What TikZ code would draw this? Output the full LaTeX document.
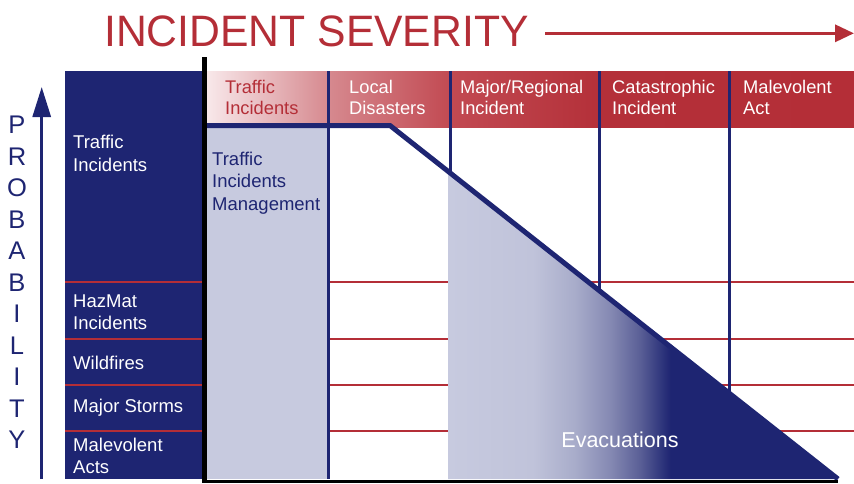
\documentclass[tikz,border=0pt]{standalone}
\usepackage{fontspec}
\setmainfont{Liberation Sans}
\usetikzlibrary{arrows.meta}
\definecolor{navy}{RGB}{30,37,114}
\definecolor{lav}{RGB}{199,202,223}
\definecolor{sevred}{RGB}{180,46,55}
\definecolor{hdra}{RGB}{248,232,234}
\definecolor{hdrb}{RGB}{214,137,143}
\definecolor{hdrc}{RGB}{194,74,82}
\definecolor{hdrd}{RGB}{180,48,57}
\definecolor{eva}{RGB}{192,195,218}
\definecolor{evb}{RGB}{168,172,202}
\definecolor{evc}{RGB}{133,137,179}
\definecolor{evd}{RGB}{90,95,150}
\pgfdeclarehorizontalshading{hdrshade}{100bp}{color(0bp)=(hdra); color(25bp)=(hdra);
  color(34.4bp)=(hdrb); color(43.8bp)=(hdrc); color(55.4bp)=(hdrd); color(75bp)=(sevred); color(100bp)=(sevred)}
\pgfdeclarehorizontalshading{evacshade}{100bp}{color(0bp)=(lav); color(25bp)=(lav);
  color(35.9bp)=(eva); color(41.3bp)=(evb); color(45.8bp)=(evc); color(49.6bp)=(evd);
  color(53.5bp)=(navy); color(100bp)=(navy)}
\begin{document}
\begin{tikzpicture}[x=1pt, y=-1pt,
  hdr/.style={anchor=west, align=left, inner sep=0pt, text=white, font=\fontsize{18.3}{21.6}\selectfont},
  lab/.style={anchor=west, align=left, inner sep=0pt, text=white, font=\fontsize{18.5}{22.5}\selectfont},
  letter/.style={inner sep=0pt, text=navy, font=\fontsize{25.5}{30}\selectfont},
  grid/.style={sevred, line width=2pt},
  divider/.style={navy, line width=3pt}]
\useasboundingbox (0,0) rectangle (854,483);

% severity band and rows
\shade[shading=hdrshade] (207,71) rectangle (854,127);
\fill[navy] (65,71) rectangle (202,479);
\foreach \y in {282,338.5,385,431} {
  \draw[grid] (65,\y) -- (202,\y);
  \draw[grid] (330,\y) -- (854,\y);
}
\fill[lav] (207,128) rectangle (327,479);
\foreach \x in {328.5,450,599,729} \draw[divider] (\x,71) -- (\x,479);

% evacuations wedge
\shade[shading=evacshade] (448,171.3) -- (838,479) -- (448,479) -- cycle;
\draw[navy, line width=5pt] (207,125.5) -- (390,125.5) -- (838,479);

% axes
\draw[black, line width=4.5pt] (204.5,57) -- (204.5,483);
\draw[black, line width=3.5pt] (202,481.5) -- (838,481.5);

\node[anchor=west, inner sep=0pt, text=sevred, xscale=0.97, font=\fontsize{44}{50}\selectfont] (title) at (104,31) {INCIDENT SEVERITY};
\coordinate (sa) at (545,33.3);
\coordinate (sb) at (854,33.3);
\draw[sevred, line width=3.3pt, -{Triangle[width=17pt,length=19pt]}] (sa) -- (sb);

\foreach \l [count=\i] in {P,R,O,B,A,B,I,L,I,T,Y}
  \node[letter] (p\i) at (17,{125+31.5*(\i-1)}) {\l};
\coordinate (pbot) at (41.7,479);
\coordinate (ptop) at (41.7,87);
\draw[navy, line width=3pt, -{Triangle[width=18pt,length=30pt]}] (pbot) -- (ptop);

\node[hdr, text=sevred] (h1) at (225,97.5) {Traffic\\Incidents};
\node[hdr] (h2) at (349,97.5) {Local\\Disasters};
\node[hdr] (h3) at (460,97.5) {Major/Regional\\Incident};
\node[hdr] (h4) at (612,97.5) {Catastrophic\\Incident};
\node[hdr] (h5) at (743,97.5) {Malevolent\\Act};

\node[lab] (r1) at (73,153.5) {Traffic\\Incidents};
\node[lab] (r2) at (73,312) {HazMat\\Incidents};
\node[lab] (r3) at (73,363) {Wildfires};
\node[lab] (r4) at (73,408) {Major Storms};
\node[lab] (r5) at (73,456) {Malevolent\\Acts};
\node[lab, text=navy] (tim) at (212,183) {Traffic\\Incidents\\Management};
\node[lab, anchor=center, font=\fontsize{21.5}{25}\selectfont] (evac) at (620,440) {Evacuations};
\end{tikzpicture}
\end{document}
